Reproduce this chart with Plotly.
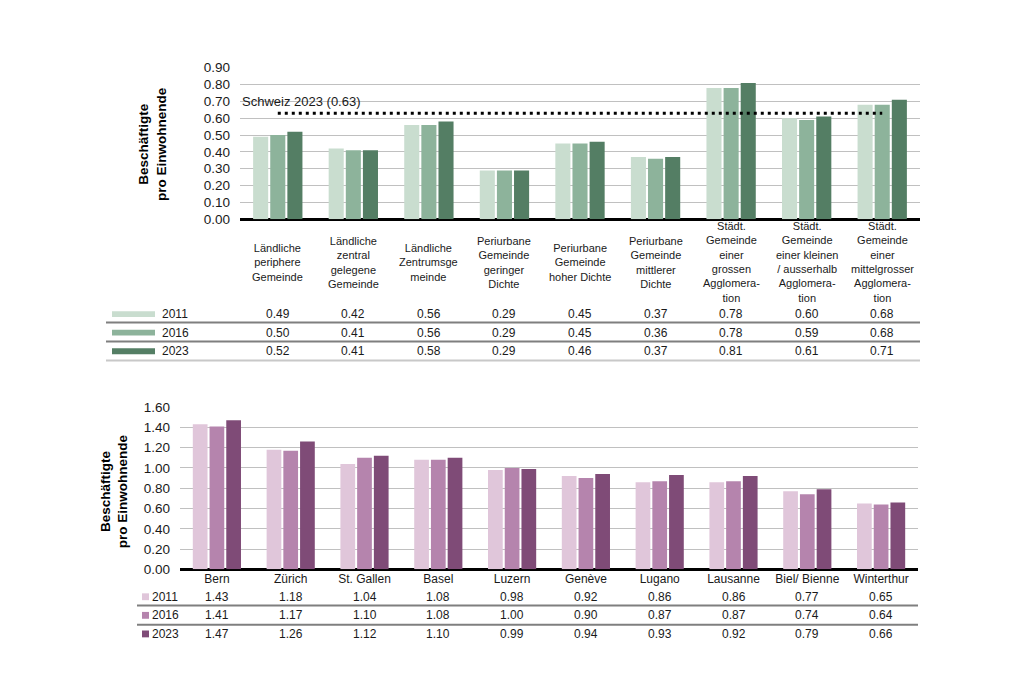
import plotly.graph_objects as go

W, H = 1024, 683

# ---------------- data ----------------
years = ["2011", "2016", "2023"]

types = [
    "Ländliche<br>periphere<br>Gemeinde",
    "Ländliche<br>zentral<br>gelegene<br>Gemeinde",
    "Ländliche<br>Zentrumsge<br>meinde",
    "Periurbane<br>Gemeinde<br>geringer<br>Dichte",
    "Periurbane<br>Gemeinde<br>hoher Dichte",
    "Periurbane<br>Gemeinde<br>mittlerer<br>Dichte",
    "Städt.<br>Gemeinde<br>einer<br>grossen<br>Agglomera-<br>tion",
    "Städt.<br>Gemeinde<br>einer kleinen<br>/ ausserhalb<br>Agglomera-<br>tion",
    "Städt.<br>Gemeinde<br>einer<br>mittelgrosser<br>Agglomera-<br>tion",
]
types_2011 = [0.49, 0.42, 0.56, 0.29, 0.45, 0.37, 0.78, 0.60, 0.68]
types_2016 = [0.50, 0.41, 0.56, 0.29, 0.45, 0.36, 0.78, 0.59, 0.68]
types_2023 = [0.52, 0.41, 0.58, 0.29, 0.46, 0.37, 0.81, 0.61, 0.71]
swiss_2023 = 0.63
swiss_label = "Schweiz 2023 (0.63)"

cities = ["Bern", "Zürich", "St. Gallen", "Basel", "Luzern", "Genève",
          "Lugano", "Lausanne", "Biel/ Bienne", "Winterthur"]
cities_2011 = [1.43, 1.18, 1.04, 1.08, 0.98, 0.92, 0.86, 0.86, 0.77, 0.65]
cities_2016 = [1.41, 1.17, 1.10, 1.08, 1.00, 0.90, 0.87, 0.87, 0.74, 0.64]
cities_2023 = [1.47, 1.26, 1.12, 1.10, 0.99, 0.94, 0.93, 0.92, 0.79, 0.66]

top_ticks = [0.0, 0.1, 0.2, 0.3, 0.4, 0.5, 0.6, 0.7, 0.8, 0.9]
bot_ticks = [0.0, 0.2, 0.4, 0.6, 0.8, 1.0, 1.2, 1.4, 1.6]
y_title = "<b>Beschäftigte<br>pro Einwohnende</b>"

# ---------------- style ----------------
greens = ["#c9ddcf", "#8db39b", "#547e64"]
purples = ["#e0c6da", "#b584ad", "#7f4b77"]
FONT = "Liberation Sans, Arial, sans-serif"
TXT = "#1a1a1a"


def px(x):
    return x / W


def py(y):
    return 1 - y / H


top_series = [types_2011, types_2016, types_2023]
bot_series = [cities_2011, cities_2016, cities_2023]

fig = go.Figure()
cat_ids = list(range(len(types)))
for i, yr in enumerate(years):
    fig.add_trace(go.Bar(x=cat_ids, y=top_series[i], name=yr, marker_color=greens[i],
                         marker_line_width=0, xaxis="x", yaxis="y",
                         showlegend=False, hoverinfo="skip"))
for i, yr in enumerate(years):
    fig.add_trace(go.Bar(x=cities, y=bot_series[i], name=yr, marker_color=purples[i],
                         marker_line_width=0, xaxis="x2", yaxis="y2",
                         showlegend=False, hoverinfo="skip"))

# Swiss average dotted line
fig.add_trace(go.Scatter(x=[cat_ids[0], cat_ids[-1]], y=[swiss_2023, swiss_2023],
                         mode="lines", line=dict(color="black", width=3, dash="3px,4px"),
                         xaxis="x", yaxis="y", showlegend=False, hoverinfo="skip"))

annotations = []
shapes = []

# Swiss label
annotations.append(dict(text=swiss_label, xref="paper", yref="paper", x=px(240), y=py(97),
                        xanchor="left", yanchor="middle", showarrow=False,
                        font=dict(size=13, color=TXT, family=FONT)))

# Category labels top
for ci, lab in enumerate(types):
    annotations.append(dict(text=lab, xref="x", yref="paper", x=cat_ids[ci], y=py(261),
                            xanchor="center", yanchor="middle", showarrow=False,
                            font=dict(size=11, color=TXT, family=FONT)))

# Top table
top_rows_y = [314, 333, 352]
for r, yr in enumerate(years):
    yy = top_rows_y[r]
    shapes.append(dict(type="rect", xref="paper", yref="paper", x0=px(112), x1=px(155),
                       y0=py(yy - 3), y1=py(yy + 3), fillcolor=greens[r], line_width=0))
    annotations.append(dict(text=yr, xref="paper", yref="paper", x=px(160), y=py(yy),
                            xanchor="left", yanchor="middle", showarrow=False,
                            font=dict(size=12, color=TXT, family=FONT)))
    for ci, v in enumerate(top_series[r]):
        annotations.append(dict(text=f"{v:.2f}", xref="x", yref="paper", x=cat_ids[ci], y=py(yy),
                                xanchor="center", yanchor="middle", showarrow=False,
                                font=dict(size=12, color=TXT, family=FONT)))
for yy, col in [(322.5, "#7f7f7f"), (342, "#7f7f7f"), (361.5, "#c8c8c8")]:
    shapes.append(dict(type="line", xref="paper", yref="paper", x0=px(106), x1=px(920),
                       y0=py(yy), y1=py(yy), line=dict(color=col, width=2)))

# Bottom table
bot_rows_y = [603, 622, 641]
for r, yr in enumerate(years):
    yy = bot_rows_y[r]
    shapes.append(dict(type="rect", xref="paper", yref="paper", x0=px(142), x1=px(149),
                       y0=py(yy - 3.5), y1=py(yy + 3.5), fillcolor=purples[r], line_width=0))
    annotations.append(dict(text=yr, xref="paper", yref="paper", x=px(150), y=py(yy),
                            xanchor="left", yanchor="middle", showarrow=False,
                            font=dict(size=12, color=TXT, family=FONT)))
    for ci, v in enumerate(bot_series[r]):
        annotations.append(dict(text=f"{v:.2f}", xref="x2", yref="paper", x=cities[ci], y=py(yy),
                                xanchor="center", yanchor="middle", showarrow=False,
                                font=dict(size=12, color=TXT, family=FONT)))
for yy in [612, 631.5]:
    shapes.append(dict(type="line", xref="paper", yref="paper", x0=px(137), x1=px(918),
                       y0=py(yy), y1=py(yy), line=dict(color="#7f7f7f", width=2)))

# Y titles
annotations.append(dict(text=y_title, xref="paper", yref="paper", x=px(153), y=py(140),
                        xanchor="center", yanchor="middle", textangle=-90, showarrow=False,
                        font=dict(size=13.5, color="black", family=FONT)))
annotations.append(dict(text=y_title, xref="paper", yref="paper", x=px(114), y=py(495),
                        xanchor="center", yanchor="middle", textangle=-90, showarrow=False,
                        font=dict(size=13.5, color="black", family=FONT)))

fig.update_layout(
    width=W, height=H,
    margin=dict(l=0, r=0, t=0, b=0),
    paper_bgcolor="white", plot_bgcolor="white",
    barmode="group", bargap=0.32, bargroupgap=0.12,
    font=dict(family=FONT, color=TXT),
    xaxis=dict(domain=[px(240), px(920)], anchor="y", showticklabels=False,
               showgrid=False, zeroline=False, range=[-0.5, len(types) - 0.5], fixedrange=True),
    yaxis=dict(domain=[py(217), py(62)], anchor="x", range=[0, 0.9005],
               tickvals=top_ticks, tickformat=".2f", showgrid=True, gridcolor="#c0c0c0",
               gridwidth=1.3, zeroline=True, zerolinecolor="black", zerolinewidth=2.5,
               tickfont=dict(size=13.5, color=TXT, family=FONT), ticklabelstandoff=9),
    xaxis2=dict(domain=[px(180), px(918)], anchor="y2", showgrid=False, zeroline=False,
                tickfont=dict(size=12, color=TXT, family=FONT), ticklabelstandoff=1),
    yaxis2=dict(domain=[py(575), py(409)], anchor="x2", range=[0, 1.601],
                tickvals=bot_ticks, tickformat=".2f", showgrid=True, gridcolor="#c0c0c0",
                gridwidth=1.3, zeroline=True, zerolinecolor="black", zerolinewidth=2.5,
                tickfont=dict(size=13.5, color=TXT, family=FONT), ticklabelstandoff=9),
    annotations=annotations,
    shapes=shapes,
)

fig.write_html("out.html")
